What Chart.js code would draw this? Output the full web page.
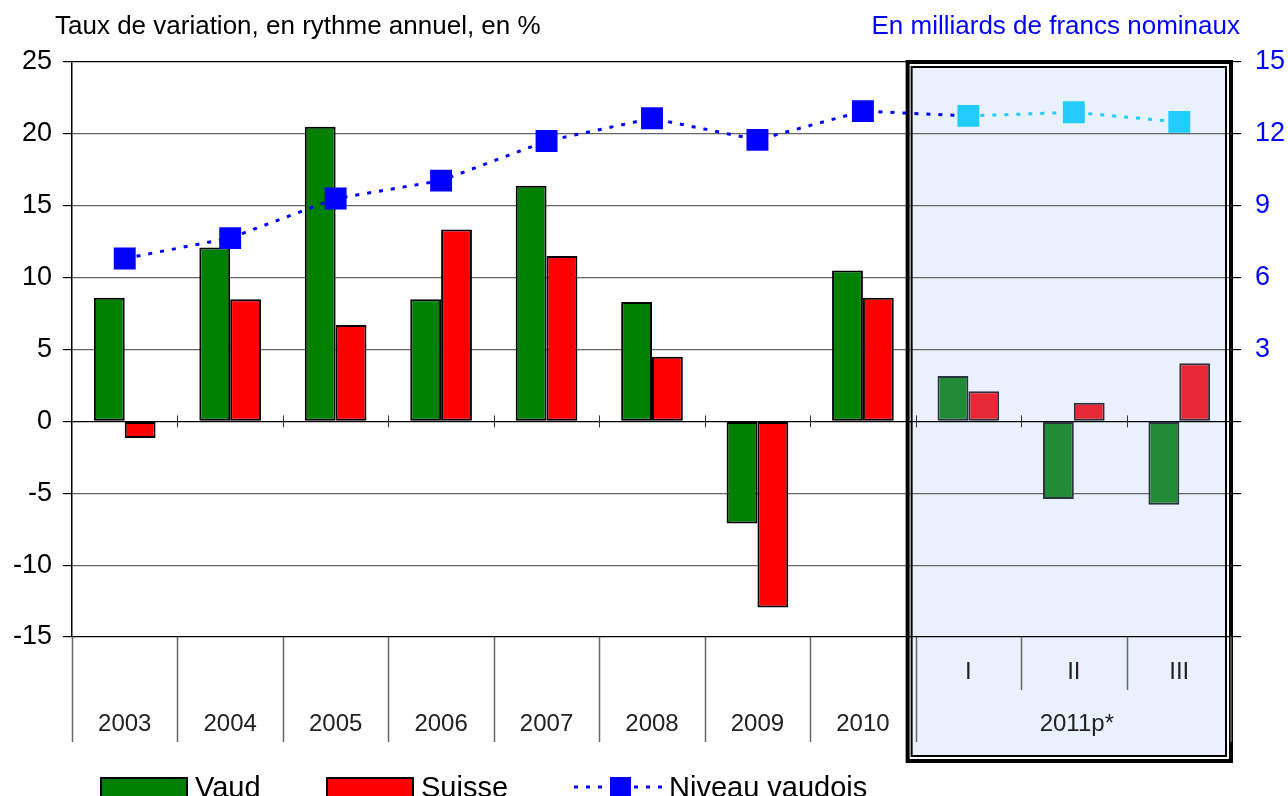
<!DOCTYPE html>
<html>
<head>
<meta charset="utf-8">
<script src="https://cdn.jsdelivr.net/npm/chart.js@4.4.1/dist/chart.umd.min.js"></script>
<style>
html, body { margin: 0; padding: 0; background: #fff; }
#wrap { width: 1288px; height: 796px; }
</style>
</head>
<body>
<div id="wrap"><canvas id="myChart" width="1288" height="796"></canvas></div>
<script>
// categories: yearly values then quarters of 2011
var categories = ['2003', '2004', '2005', '2006', '2007', '2008', '2009', '2010', 'I', 'II', 'III'];
var yearGroup  = '2011p*';
// growth rates, %
var vaud   = [8.6, 12.1, 20.5, 8.5, 16.4, 8.3, -7.1, 10.5, 3.15, -5.4, -5.8];
var suisse = [-1.15, 8.5, 6.7, 13.35, 11.5, 4.5, -12.95, 8.6, 2.1, 1.3, 4.05];
// level, billions of francs (right axis)
var niveau = [6.8, 7.65, 9.3, 10.05, 11.7, 12.65, 11.75, 12.95, 12.75, 12.9, 12.5];

var leftMin = -15, leftMax = 25, leftStep = 5;
var rightMin = -9, rightMax = 15, rightStep = 3;

var FONT = "Arial, 'Liberation Sans', sans-serif";
var nYears = 8;

function isQuarter(i) { return i >= nYears; }

var decor = {
	id: 'decor',
	beforeDraw: function(chart) {
		var ctx = chart.ctx, area = chart.chartArea, x = chart.scales.x;
		var half = (x.getPixelForValue(1) - x.getPixelForValue(0)) / 2;
		var edge = x.getPixelForValue(nYears) - half;
		ctx.save();
		ctx.fillStyle = '#e9f2fc';
		ctx.fillRect(edge - 4, area.top + 5, area.right - 6 - (edge - 4), 757 - (area.top + 5));
		ctx.restore();
	},
	beforeDatasetsDraw: function(chart) {
		var ctx = chart.ctx, area = chart.chartArea, x = chart.scales.x, y = chart.scales.y;
		var half = (x.getPixelForValue(1) - x.getPixelForValue(0)) / 2;
		var edge = x.getPixelForValue(nYears) - half;
		var zero = y.getPixelForValue(0);
		ctx.save();
		// small ticks on the zero line
		ctx.strokeStyle = '#333';
		ctx.lineWidth = 1;
		for (var i = 1; i < categories.length; i++) {
			var bx = Math.round(x.getPixelForValue(i) - half) + 0.5;
			ctx.beginPath();
			ctx.moveTo(bx, zero - 6);
			ctx.lineTo(bx, zero + 6);
			ctx.stroke();
		}
		// double frame round 2011
		ctx.strokeStyle = '#000';
		ctx.lineWidth = 4;
		ctx.strokeRect(edge - 8, area.top, area.right - 1 - (edge - 8), 761 - area.top);
		ctx.lineWidth = 2;
		ctx.strokeRect(edge - 4, area.top + 5, area.right - 6 - (edge - 4), 756 - (area.top + 5));
		ctx.restore();
	},
	afterDraw: function(chart) {
		var ctx = chart.ctx, area = chart.chartArea, x = chart.scales.x;
		var half = (x.getPixelForValue(1) - x.getPixelForValue(0)) / 2;
		ctx.save();
		// category separators under the plot
		ctx.strokeStyle = '#666';
		ctx.lineWidth = 1.5;
		for (var i = 0; i <= categories.length; i++) {
			var bx = Math.round(x.getPixelForValue(i) - half) + 0.5;
			var bottom = (i > nYears && i < categories.length) ? 690 : 742;
			if (i === categories.length) bx = area.right - 1;
			ctx.beginPath();
			ctx.moveTo(bx, area.bottom);
			ctx.lineTo(bx, bottom);
			ctx.stroke();
		}
		// category labels
		ctx.fillStyle = '#222';
		ctx.font = '24px ' + FONT;
		ctx.textAlign = 'center';
		ctx.textBaseline = 'middle';
		for (var j = 0; j < categories.length; j++) {
			var cx = x.getPixelForValue(j);
			ctx.fillText(categories[j], cx, isQuarter(j) ? 672 : 724);
		}
		var gx = (x.getPixelForValue(nYears) + x.getPixelForValue(categories.length - 1)) / 2;
		ctx.fillText(yearGroup, gx + 3, 724);

		// axis titles
		ctx.font = '26px ' + FONT;
		ctx.textBaseline = 'alphabetic';
		ctx.textAlign = 'left';
		ctx.fillStyle = '#000';
		ctx.fillText('Taux de variation, en rythme annuel, en %', 55, 34);
		ctx.textAlign = 'right';
		ctx.fillStyle = '#0000ff';
		ctx.fillText('En milliards de francs nominaux', 1240, 34);

		// legend
		ctx.textAlign = 'left';
		ctx.font = '29px ' + FONT;
		ctx.lineWidth = 2;
		ctx.strokeStyle = '#000';
		ctx.fillStyle = '#008000';
		ctx.fillRect(101, 778, 86, 20);
		ctx.strokeRect(101, 778, 86, 20);
		ctx.fillStyle = '#ff0000';
		ctx.fillRect(327, 778, 86, 20);
		ctx.strokeRect(327, 778, 86, 20);
		ctx.strokeStyle = '#0000ff';
		ctx.lineWidth = 3;
		ctx.setLineDash([4, 8]);
		ctx.beginPath();
		ctx.moveTo(574, 787);
		ctx.lineTo(662, 787);
		ctx.stroke();
		ctx.setLineDash([]);
		ctx.fillStyle = '#0000ff';
		ctx.fillRect(610, 777, 21, 21);
		ctx.fillStyle = '#000';
		ctx.fillText('Vaud', 195, 797);
		ctx.fillText('Suisse', 421, 797);
		ctx.fillText('Niveau vaudois', 669, 797);
		ctx.restore();
	}
};

var ctx = document.getElementById('myChart').getContext('2d');

new Chart(ctx, {
	data: {
		labels: categories,
		datasets: [{
			type: 'line',
			label: 'Niveau vaudois',
			data: niveau,
			yAxisID: 'y1',
			order: 0,
			borderColor: '#0000ff',
			borderWidth: 3,
			borderDash: [4, 8],
			tension: 0,
			segment: {
				borderColor: function(c) { return c.p0DataIndex >= nYears ? '#22ccff' : '#0000ff'; }
			},
			pointStyle: 'rect',
			pointRadius: 15.5,
			pointBorderWidth: 0,
			pointBackgroundColor: niveau.map(function(v, i) { return isQuarter(i) ? '#22ccff' : '#0000ff'; }),
			pointBorderColor: niveau.map(function(v, i) { return isQuarter(i) ? '#22ccff' : '#0000ff'; })
		}, {
			type: 'bar',
			label: 'Vaud',
			data: vaud,
			yAxisID: 'y',
			order: 1,
			backgroundColor: vaud.map(function(v, i) { return isQuarter(i) ? '#218b35' : '#008000'; }),
			borderColor: vaud.map(function(v, i) { return isQuarter(i) ? '#2b3340' : '#000'; }),
			borderWidth: 2,
			borderSkipped: false,
			categoryPercentage: 0.585,
			barPercentage: 1
		}, {
			type: 'bar',
			label: 'Suisse',
			data: suisse,
			yAxisID: 'y',
			order: 2,
			backgroundColor: suisse.map(function(v, i) { return isQuarter(i) ? '#e92835' : '#ff0000'; }),
			borderColor: suisse.map(function(v, i) { return isQuarter(i) ? '#2b3340' : '#000'; }),
			borderWidth: 2,
			borderSkipped: false,
			categoryPercentage: 0.585,
			barPercentage: 1
		}]
	},
	options: {
		responsive: false,
		animation: false,
		layout: { padding: { top: 62, bottom: 159, left: 0, right: 0 } },
		plugins: {
			legend: { display: false },
			tooltip: { enabled: false }
		},
		scales: {
			x: {
				display: false,
				offset: true
			},
			y: {
				position: 'left',
				min: leftMin,
				max: leftMax,
				afterFit: function(s) { s.width = 72; },
				border: { display: true, color: '#000', width: 1.5 },
				grid: {
					color: function(c) {
						var v = c.tick.value;
						return (v === 0 || v === leftMax || v === leftMin) ? '#000' : '#666';
					},
					lineWidth: 1.2,
					tickLength: 9,
					tickColor: '#000'
				},
				ticks: {
					stepSize: leftStep,
					color: '#000',
					font: { family: FONT, size: 27 },
					padding: 11
				}
			},
			y1: {
				position: 'right',
				min: rightMin,
				max: rightMax,
				afterFit: function(s) { s.width = 56; },
				border: { display: false },
				grid: {
					drawOnChartArea: false,
					tickLength: 9,
					tickColor: '#000',
					lineWidth: 1.2
				},
				ticks: {
					stepSize: rightStep,
					color: '#0000ff',
					font: { family: FONT, size: 27 },
					padding: 14,
					callback: function(v) { return v >= 3 ? v : ''; }
				}
			}
		}
	},
	plugins: [decor]
});
</script>
</body>
</html>
